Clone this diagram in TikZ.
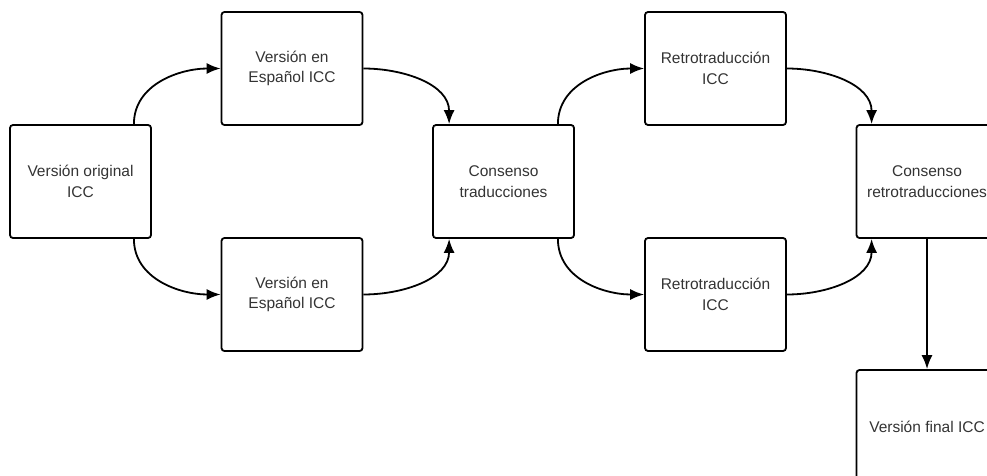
\documentclass[tikz,border=0pt]{standalone}
\usepackage{fontspec}
\setmainfont{Liberation Sans}
\usepackage{tikz}
\usetikzlibrary{arrows.meta}

\begin{document}
\begin{tikzpicture}[
        x=1pt, y=-1pt,
        paso/.style={draw, line width=1.8pt, rounded corners=3pt,
            minimum width=141pt, minimum height=113pt, align=center,
            font=\fontsize{15.5}{20.5}\selectfont, text=black!80},
        flecha/.style={line width=1.8pt, -{Latex[length=14pt,width=11pt]}}
    ]
    \useasboundingbox (0,0) rectangle (987,476);
    \clip (0,0) rectangle (987,476);

    % cajas
    \node[paso] (original) at (80.5,181.5) {Versi\'on original\\ICC};
    \node[paso] (espA) at (292,68.5) {Versi\'on en\\Espa\~nol ICC};
    \node[paso] (espB) at (292,294.5) {Versi\'on en\\Espa\~nol ICC};
    \node[paso] (consenso) at (503.5,181.5) {Consenso\\traducciones};
    \node[paso] (retroA) at (715.5,68.5) {Retrotraducci\'on\\ICC};
    \node[paso] (retroB) at (715.5,294.5) {Retrotraducci\'on\\ICC};
    \node[paso] (consretro) at (927,181.5) {Consenso\\retrotraducciones};
    \node[paso] (final) at (927,426.5) {Versi\'on final ICC};

    % flechas
    \draw[flecha] ([xshift=-18pt]original.north east) to[out=90,in=180] (espA.west);
    \draw[flecha] ([xshift=-18pt]original.south east) to[out=-90,in=180] (espB.west);
    \draw[flecha] (espA.east) to[out=0,in=90] ([xshift=17pt]consenso.north west);
    \draw[flecha] (espB.east) to[out=0,in=-90] ([xshift=17pt]consenso.south west);
    \draw[flecha] ([xshift=-17pt]consenso.north east) to[out=90,in=180] (retroA.west);
    \draw[flecha] ([xshift=-17pt]consenso.south east) to[out=-90,in=180] (retroB.west);
    \draw[flecha] (retroA.east) to[out=0,in=90] ([xshift=16pt]consretro.north west);
    \draw[flecha] (retroB.east) to[out=0,in=-90] ([xshift=16pt]consretro.south west);
    \draw[flecha] (consretro.south) -- (final.north);
\end{tikzpicture}
\end{document}
